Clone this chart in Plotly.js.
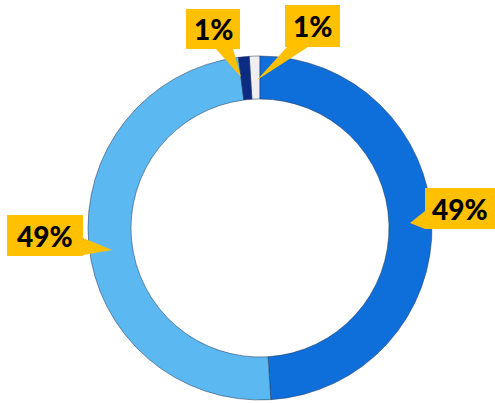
<!DOCTYPE html>
<html>
<head>
<meta charset="utf-8">
<script src="https://cdn.plot.ly/plotly-3.0.1.min.js"></script>
<style>html,body{margin:0;padding:0;background:#fff;}#chart{width:495px;height:403px;}</style>
</head>
<body>
<div id="chart"></div>
<script>
const categories = ["A", "B", "C", "D"];
const values = [1, 49, 49, 1];
const labelsText = ["1%", "49%", "49%", "1%"];
const colors = ["#efefef", "#0f6fda", "#5cb8f0", "#0c2c84"];

const W = 495, H = 403;
function px(x){ return x / W; }
function py(y){ return 1 - y / H; }

const trace = {
  type: "pie",
  labels: categories,
  values: values,
  hole: 0.75,
  sort: false,
  direction: "clockwise",
  rotation: -3.6,
  textinfo: "none",
  hoverinfo: "none",
  marker: { colors: colors, line: { color: "rgba(30,50,80,0.5)", width: 1 } },
  domain: { x: [px(88), px(432)], y: [py(400), py(56)] },
  showlegend: false
};

// callout boxes: [x0, y0, x1, y1] in px, wedge base points and tip
const callouts = [
  { box: [285, 5, 340, 47], base: [[287, 47], [308, 47]], tip: [257, 80] },
  { box: [425, 188, 495, 229], base: [[425, 211], [425, 229]], tip: [410, 223] },
  { box: [7, 215, 83, 256], base: [[83, 238], [83, 255]], tip: [112, 250] },
  { box: [186, 9, 240, 49], base: [[216, 49], [233, 49]], tip: [241, 77] }
];

const shapes = [];
const annotations = [];
callouts.forEach((c, i) => {
  const [x0, y0, x1, y1] = c.box;
  shapes.push({
    type: "path", xref: "paper", yref: "paper",
    path: "M " + px(c.base[0][0]) + "," + py(c.base[0][1]) +
          " L " + px(c.tip[0]) + "," + py(c.tip[1]) +
          " L " + px(c.base[1][0]) + "," + py(c.base[1][1]) + " Z",
    fillcolor: "#FFC000", line: { width: 0 }, layer: "above"
  });
  shapes.push({
    type: "rect", xref: "paper", yref: "paper",
    x0: px(x0), x1: px(x1), y0: py(y1), y1: py(y0),
    fillcolor: "#FFC000", line: { width: 0 }, layer: "above"
  });
  annotations.push({
    x: px((x0 + x1) / 2), y: py((y0 + y1) / 2), xref: "paper", yref: "paper",
    xanchor: "center", yanchor: "middle",
    text: labelsText[i], showarrow: false,
    font: { family: "Lato, 'DejaVu Sans', sans-serif", size: 28, weight: 900, color: "#000" }
  });
});

const layout = {
  width: W, height: H,
  margin: { l: 0, r: 0, t: 0, b: 0 },
  paper_bgcolor: "#ffffff",
  plot_bgcolor: "#ffffff",
  showlegend: false,
  shapes: shapes,
  annotations: annotations
};

Plotly.newPlot("chart", [trace], layout, { displayModeBar: false, staticPlot: true });
</script>
</body>
</html>
